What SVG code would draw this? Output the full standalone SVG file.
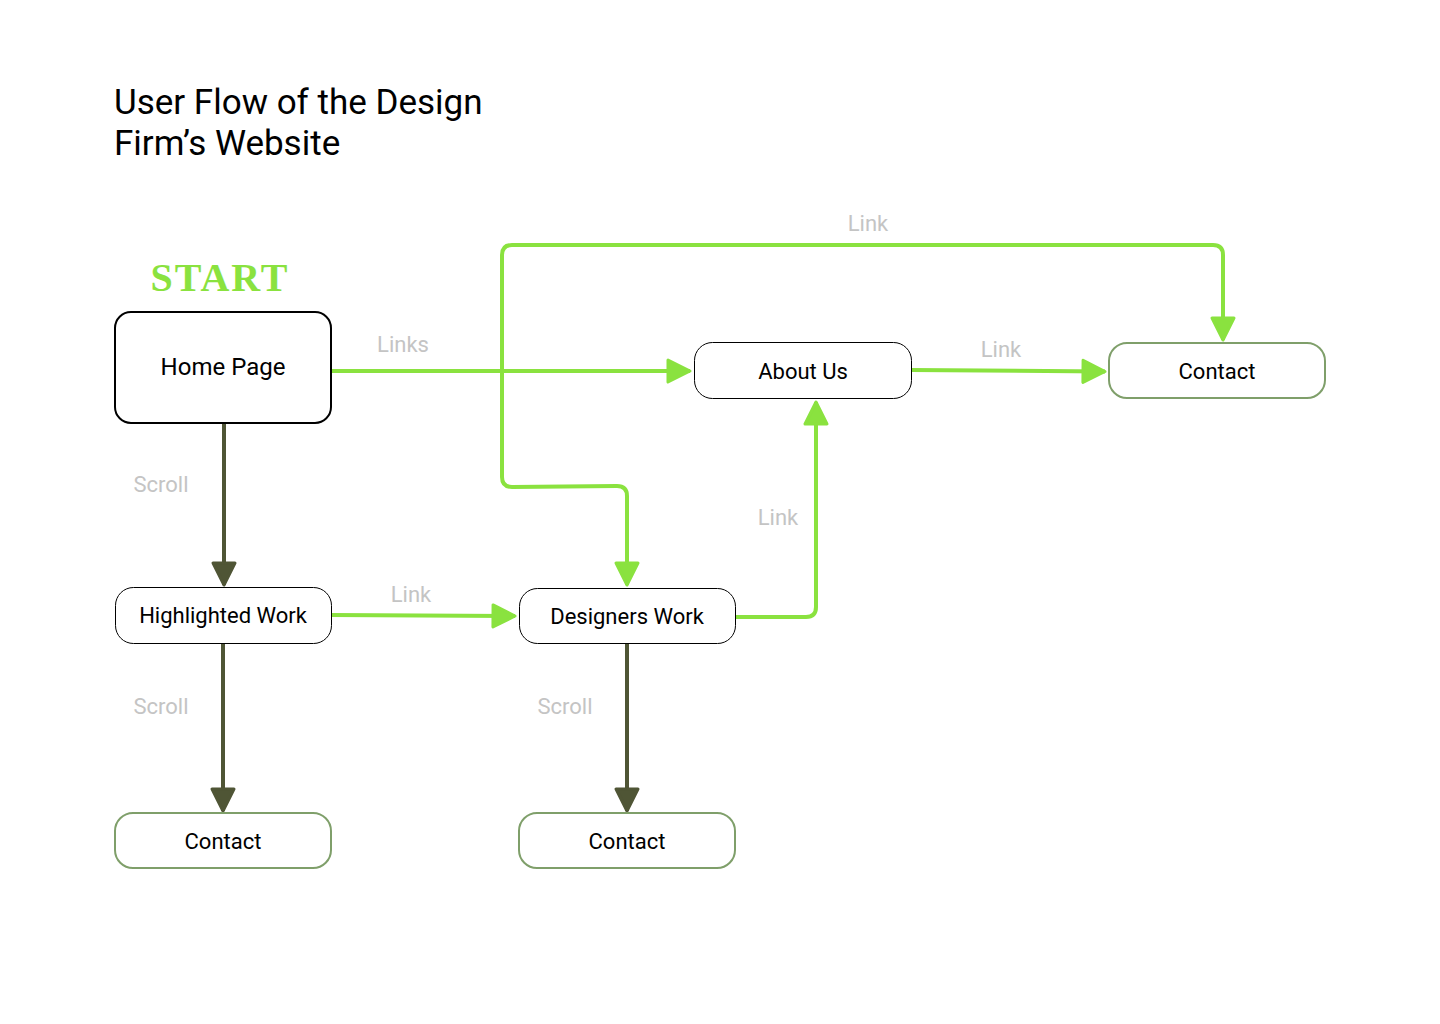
<svg xmlns="http://www.w3.org/2000/svg" width="1440" height="1024" viewBox="0 0 1440 1024">
<style>
.node{fill:#fff}
.nt{font-family:Roboto,"Liberation Sans",sans-serif;font-size:22px;fill:#000;text-anchor:middle;dominant-baseline:central}
.lbl{font-family:Roboto,"Liberation Sans",sans-serif;font-size:22px;fill:#c4c4c4;text-anchor:middle}
.g{fill:none;stroke:#8ae23f;stroke-width:4;stroke-linejoin:round}
.d{fill:none;stroke:#4f5535;stroke-width:4}
</style>
<defs>
<marker id="ag" markerUnits="userSpaceOnUse" markerWidth="30" markerHeight="30" viewBox="0 0 30 30" refX="26" refY="15" orient="auto-start-reverse">
<path d="M4,4 L26,15 L4,26 Z" fill="#8ae23f" stroke="#8ae23f" stroke-width="3" stroke-linejoin="round"/>
</marker>
<marker id="ad" markerUnits="userSpaceOnUse" markerWidth="30" markerHeight="30" viewBox="0 0 30 30" refX="26" refY="15" orient="auto">
<path d="M4,4 L26,15 L4,26 Z" fill="#4f5535" stroke="#4f5535" stroke-width="3" stroke-linejoin="round"/>
</marker>
</defs>
<rect width="1440" height="1024" fill="#fff"/>
<g id="title" font-family="Roboto,'Liberation Sans',sans-serif" font-size="35" fill="#000">
<text x="114" y="114">User Flow of the Design</text>
<text x="114" y="155">Firm’s Website</text>
</g>
<text id="start" x="220" y="291" font-family="'Liberation Serif',serif" font-weight="bold" font-size="40" letter-spacing="2" fill="#8ae23f" text-anchor="middle">START</text>
<g id="connectors">
<path class="g" d="M331,371 L690,371" marker-end="url(#ag)"/>
<path class="g" d="M911,370 L1105,371.5" marker-end="url(#ag)"/>
<path class="g" d="M627,585 L627,496 Q627,486 617,486 L512,487 Q502,487 502,477 L502,255 Q502,245 512,245 L1213,245 Q1223,245 1223,255 L1223,340" marker-start="url(#ag)" marker-end="url(#ag)"/>
<path class="g" d="M331,615 L515,616" marker-end="url(#ag)"/>
<path class="g" d="M735,617 L806,617 Q816,617 816,607 L816,402" marker-end="url(#ag)"/>
<path class="d" d="M224,423 L224,585" marker-end="url(#ad)"/>
<path class="d" d="M223,643 L223,811" marker-end="url(#ad)"/>
<path class="d" d="M627,643 L627,811" marker-end="url(#ad)"/>
<text class="lbl" x="403" y="352">Links</text>
<text class="lbl" x="868" y="231">Link</text>
<text class="lbl" x="1001" y="357">Link</text>
<text class="lbl" x="411" y="602">Link</text>
<text class="lbl" x="778" y="525">Link</text>
<text class="lbl" x="161" y="492">Scroll</text>
<text class="lbl" x="161" y="714">Scroll</text>
<text class="lbl" x="565" y="714">Scroll</text>
</g>
<g id="home">
<rect class="node" x="115" y="312" width="216" height="111" rx="16" stroke="#000" stroke-width="2"/>
<text class="nt" x="223" y="367" style="font-size:24px">Home Page</text>
</g>
<g id="about">
<rect class="node" x="694.5" y="342.5" width="217" height="56" rx="18" stroke="#000" stroke-width="1"/>
<text class="nt" x="803" y="371">About Us</text>
</g>
<g id="contact-top">
<rect class="node" x="1109" y="343" width="216" height="55" rx="18" stroke="#7f9f6a" stroke-width="2"/>
<text class="nt" x="1217" y="371">Contact</text>
</g>
<g id="highlighted">
<rect class="node" x="115.5" y="587.5" width="216" height="56" rx="18" stroke="#000" stroke-width="1"/>
<text class="nt" x="223" y="615">Highlighted Work</text>
</g>
<g id="designers">
<rect class="node" x="519.5" y="588.5" width="216" height="55" rx="18" stroke="#000" stroke-width="1"/>
<text class="nt" x="627" y="616">Designers Work</text>
</g>
<g id="contact-left">
<rect class="node" x="115" y="813" width="216" height="55" rx="18" stroke="#7f9f6a" stroke-width="2"/>
<text class="nt" x="223" y="841">Contact</text>
</g>
<g id="contact-mid">
<rect class="node" x="519" y="813" width="216" height="55" rx="18" stroke="#7f9f6a" stroke-width="2"/>
<text class="nt" x="627" y="841">Contact</text>
</g>
</svg>
